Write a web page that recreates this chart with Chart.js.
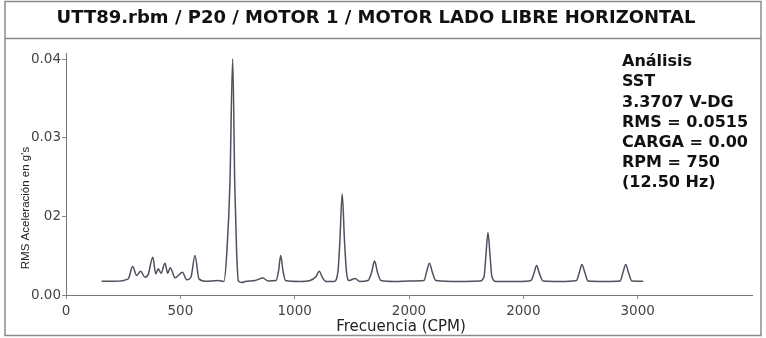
<!DOCTYPE html>
<html>
<head>
<meta charset="utf-8">
<script src="https://cdn.jsdelivr.net/npm/chart.js@4"></script>
<style>
  body { margin: 0; background: #fff; }
  canvas { display: block; }
</style>
</head>
<body>
<canvas id="spectrum" width="766" height="338"></canvas>
<script>
// Spectrum (frequency in axis units, amplitude in g's)
const freqs = [
    155, 213, 271, 290, 308, 325, 344, 358, 378, 391, 402, 414, 431, 443, 454, 475,
    507, 526, 544, 562, 579, 605, 663, 688, 701, 714, 726, 735, 743, 751, 767, 780,
    823, 858, 880, 915, 926, 935, 945, 956, 1019, 1063, 1089, 1103, 1117, 1132, 1167, 1185,
    1193, 1203, 1213, 1222, 1233, 1259, 1280, 1315, 1331, 1344, 1357, 1372, 1433, 1498, 1559, 1570,
    1583, 1596, 1611, 1716, 1803, 1821, 1829, 1838, 1847, 1855, 1873, 1977, 2025, 2038, 2050, 2062,
    2078, 2152, 2223, 2236, 2247, 2260, 2274, 2348, 2413, 2426, 2438, 2450, 2465, 2514
];
const amps = [
    0.00175, 0.00175, 0.00206, 0.00362, 0.00248, 0.00302, 0.00226, 0.00262, 0.00480, 0.00269, 0.00333, 0.00277, 0.00404, 0.00277, 0.00346, 0.00219,
    0.00290, 0.00193, 0.00226, 0.00502, 0.00206, 0.00175, 0.00184, 0.00172, 0.00565, 0.01417, 0.03005, 0.01417, 0.00565, 0.00178, 0.00159, 0.00172,
    0.00184, 0.00216, 0.00178, 0.00184, 0.00311, 0.00502, 0.00311, 0.00184, 0.00172, 0.00184, 0.00235, 0.00302, 0.00222, 0.00172, 0.00172, 0.00311,
    0.00693, 0.01290, 0.00693, 0.00286, 0.00184, 0.00210, 0.00172, 0.00184, 0.00286, 0.00432, 0.00286, 0.00184, 0.00172, 0.00178, 0.00184, 0.00286,
    0.00404, 0.00286, 0.00184, 0.00172, 0.00178, 0.00235, 0.00502, 0.00794, 0.00502, 0.00235, 0.00172, 0.00172, 0.00184, 0.00273, 0.00375, 0.00273,
    0.00178, 0.00172, 0.00184, 0.00286, 0.00388, 0.00286, 0.00178, 0.00172, 0.00178, 0.00286, 0.00388, 0.00286, 0.00178, 0.00175
];

// Tick labels exactly as printed on the original
const xTickLabels = ['0', '500', '1000', '2000', '2000', '3000'];
const yTickLabels = ['0.00', '02', '0.03', '0.04'];

const chartTitle = 'UTT89.rbm / P20 / MOTOR 1 / MOTOR LADO LIBRE HORIZONTAL';
const xTitle = 'Frecuencia (CPM)';
const yTitle = "RMS Aceleración en g's";
const infoLines = ['Análisis', 'SST', '3.3707 V-DG', 'RMS = 0.0515', 'CARGA = 0.00', 'RPM = 750', '(12.50 Hz)'];

const points = freqs.map((f, i) => ({ x: f, y: amps[i] }));

// frame, axis titles and the info block
const decorations = {
    id: 'decorations',
    beforeDraw(chart) {
        const ctx = chart.ctx;
        ctx.save();
        ctx.fillStyle = '#fff';
        ctx.fillRect(0, 0, chart.width, chart.height);
        ctx.strokeStyle = '#8c8c8c';
        ctx.lineWidth = 1.5;
        ctx.strokeRect(5, 1.5, 756, 334);
        ctx.beginPath();
        ctx.moveTo(5, 38.5);
        ctx.lineTo(761, 38.5);
        ctx.stroke();
        ctx.restore();
    },
    afterDraw(chart) {
        const ctx = chart.ctx;
        ctx.save();
        ctx.fillStyle = '#222';
        ctx.textBaseline = 'middle';

        // x title
        ctx.font = '15px "DejaVu Sans"';
        ctx.textAlign = 'center';
        ctx.fillText(xTitle, 401, 327);

        // y title
        ctx.save();
        ctx.translate(26, 208);
        ctx.rotate(-Math.PI / 2);
        ctx.font = '11.5px "Liberation Sans"';
        ctx.fillText(yTitle, 0, 0);
        ctx.restore();

        // info block
        ctx.fillStyle = '#111';
        ctx.font = 'bold 16px "DejaVu Sans"';
        ctx.textAlign = 'left';
        infoLines.forEach((line, i) => {
            ctx.fillText(line, 622, 62 + i * 20.2);
        });
        ctx.restore();
    }
};

const ctx = document.getElementById('spectrum').getContext('2d');
new Chart(ctx, {
    type: 'line',
    data: {
        datasets: [{
            data: points,
            borderColor: '#4e525e',
            borderWidth: 1.5,
            pointRadius: 0,
            fill: false,
            cubicInterpolationMode: 'monotone'
        }]
    },
    options: {
        responsive: false,
        animation: false,
        layout: {
            padding: { top: 0, right: 14, left: 0, bottom: 0 }
        },
        plugins: {
            legend: { display: false },
            tooltip: { enabled: false },
            title: {
                display: true,
                text: chartTitle,
                color: '#111',
                font: { family: 'DejaVu Sans', weight: 'bold', size: 18 },
                padding: { top: 7.5, bottom: 23.9 }
            }
        },
        scales: {
            x: {
                type: 'linear',
                min: 0,
                max: 2988,
                afterFit: scale => { scale.height = 43; },
                grid: { drawOnChartArea: false, drawTicks: true, tickLength: 4, color: '#888' },
                border: { display: true, color: '#777', width: 1 },
                ticks: {
                    stepSize: 500,
                    includeBounds: false,
                    maxRotation: 0,
                    padding: 4,
                    color: '#444',
                    font: { family: 'DejaVu Sans', size: 13.5 },
                    callback: (value, index) => xTickLabels[index]
                }
            },
            y: {
                min: 0,
                max: 0.0308,
                afterFit: scale => { scale.width = 66; },
                grid: { drawOnChartArea: false, drawTicks: true, tickLength: 4, color: '#888' },
                border: { display: true, color: '#777', width: 1 },
                ticks: {
                    stepSize: 0.01,
                    includeBounds: false,
                    padding: 1,
                    color: '#444',
                    font: { family: 'DejaVu Sans', size: 13.5 },
                    callback: (value, index) => yTickLabels[index]
                }
            }
        }
    },
    plugins: [decorations]
});
</script>
</body>
</html>
